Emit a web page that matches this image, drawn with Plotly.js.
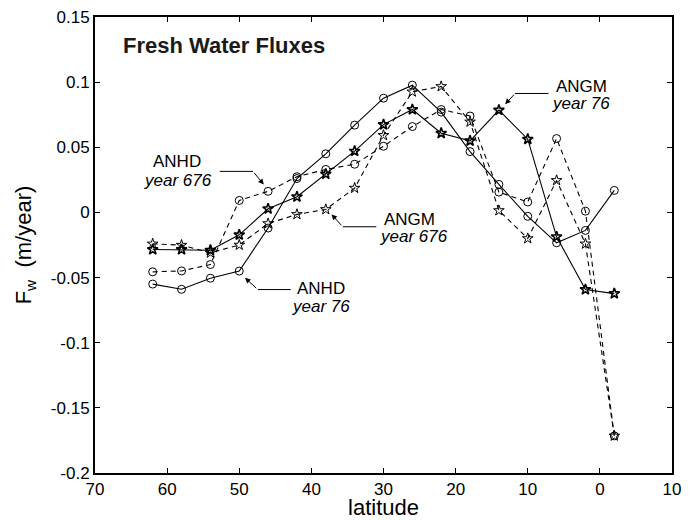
<!DOCTYPE html>
<html>
<head>
<meta charset="utf-8">
<script src="https://cdn.plot.ly/plotly-3.0.1.min.js"></script>
<style>
  html, body { margin: 0; padding: 0; background: #fff; }
  #chart { width: 690px; height: 520px; }
</style>
</head>
<body>
<div id="chart"></div>
<script>
// Latitude of each sample (degrees N; negative = south of the equator)
const latitude = [62, 58, 54, 50, 46, 42, 38, 34, 30, 26, 22, 18, 14, 10, 6, 2, -2];

// Fresh water flux (m/year) for each run
const anhdYear76  = [-0.055, -0.059, -0.0505, -0.045, -0.012, 0.026, 0.045, 0.067, 0.0877, 0.0977, 0.077, 0.0467, 0.0215, -0.003, -0.0233, -0.0138, 0.0169];
const anhdYear676 = [-0.0456, -0.0449, -0.040, 0.0092, 0.0162, 0.0274, 0.033, 0.037, 0.0508, 0.0659, 0.079, 0.074, 0.0156, 0.008, 0.0567, 0.001, -0.1715];
const angmYear76  = [-0.0285, -0.0285, -0.029, -0.0172, 0.0028, 0.012, 0.0295, 0.047, 0.0674, 0.079, 0.0608, 0.0549, 0.0785, 0.0562, -0.0187, -0.0592, -0.0623];
const angmYear676 = [-0.0241, -0.0251, -0.031, -0.025, -0.0085, -0.0015, 0.0023, 0.0187, 0.0592, 0.0926, 0.0967, 0.0695, 0.0015, -0.020, 0.0246, -0.0241, -0.1715];

// Axis ticks
const xTickVals = [70, 60, 50, 40, 30, 20, 10, 0, -10];
const xTickText = ['70', '60', '50', '40', '30', '20', '10', '0', '10'];
const yTickVals = [-0.2, -0.15, -0.1, -0.05, 0, 0.05, 0.1, 0.15];
const yTickText = ['-0.2', '-0.15', '-0.1', '-0.05', '0', '0.05', '0.1', '0.15'];

const FONT = 'Liberation Sans, Arial, Helvetica, sans-serif';
const DASH = '5px,4px';

function series(y, dashed, symbol, mlw) {
  return {
    x: latitude, y: y, type: 'scatter', mode: 'lines+markers',
    line: { color: '#000', width: 1.1, dash: dashed ? DASH : 'solid' },
    marker: { symbol: symbol, size: 8, color: '#000', line: { color: '#000', width: mlw } },
    showlegend: false, hoverinfo: 'x+y'
  };
}

const traces = [
  series(anhdYear76,  false, 'circle-open', 1),
  series(anhdYear676, true,  'circle-open', 1),
  series(angmYear76,  false, 'star-open', 1.6),
  series(angmYear676, true,  'star-open', 1)
];

// Callout labels: two text lines, a horizontal leader and an arrow to the curve
const callouts = [
  { run: 'ANHD', year: 'year 676', line1: [58.6, 0.0392], line2: [58.5, 0.0246],
    leader: [[52.7, 0.0315], [48.1, 0.0315]], tip: [46.6, 0.0215] },
  { run: 'ANGM', year: 'year 676', line1: [26.4, -0.0058], line2: [25.8, -0.0185],
    leader: [[31.0, -0.011], [35.65, -0.011]], tip: [37.2, -0.0015] },
  { run: 'ANHD', year: 'year 76', line1: [38.65, -0.0581], line2: [38.65, -0.0719],
    leader: [[42.86, -0.0592], [47.43, -0.0592]], tip: [49.2, -0.0502] },
  { run: 'ANGM', year: 'year 76', line1: [2.6, 0.0969], line2: [2.6, 0.0835],
    leader: [[7.13, 0.0913], [11.75, 0.0913]], tip: [13.13, 0.0831] }
];

const annotations = [];
const shapes = [];
callouts.forEach(c => {
  annotations.push({
    x: c.line1[0], y: c.line1[1], xref: 'x', yref: 'y', text: c.run, showarrow: false,
    xanchor: 'center', yanchor: 'middle', font: { family: FONT, size: 17, color: '#000' }
  });
  annotations.push({
    x: c.line2[0], y: c.line2[1], xref: 'x', yref: 'y', text: '<i>' + c.year + '</i>', showarrow: false,
    xanchor: 'center', yanchor: 'middle', font: { family: FONT, size: 17, color: '#000' }
  });
  shapes.push({
    type: 'line', xref: 'x', yref: 'y',
    x0: c.leader[0][0], y0: c.leader[0][1], x1: c.leader[1][0], y1: c.leader[1][1],
    line: { color: '#000', width: 1 }
  });
  annotations.push({
    x: c.tip[0], y: c.tip[1], xref: 'x', yref: 'y',
    ax: c.leader[1][0], ay: c.leader[1][1], axref: 'x', ayref: 'y',
    text: '', showarrow: true, arrowhead: 2, arrowsize: 1.1, arrowwidth: 1, arrowcolor: '#000'
  });
});

annotations.push({
  x: 66.4, y: 0.128, xref: 'x', yref: 'y', text: '<b>Fresh Water Fluxes</b>', showarrow: false,
  xanchor: 'left', yanchor: 'middle', font: { family: FONT, size: 22, color: '#1a1a1a' }
});

const axisCommon = {
  showline: true, linecolor: '#000', linewidth: 2, mirror: 'ticks',
  ticks: 'inside', ticklen: 5, tickwidth: 1, tickcolor: '#000',
  showgrid: false, zeroline: false,
  tickfont: { family: FONT, size: 17, color: '#000' }
};

const layout = {
  width: 690, height: 520,
  margin: { l: 95, r: 18, t: 17, b: 47 },
  paper_bgcolor: '#fff', plot_bgcolor: '#fff',
  font: { family: FONT, color: '#000' },
  xaxis: Object.assign({}, axisCommon, {
    range: [70, -10], tickmode: 'array', tickvals: xTickVals, ticktext: xTickText,
    title: { text: 'latitude', font: { family: FONT, size: 22, color: '#000' }, standoff: 4 }
  }),
  yaxis: Object.assign({}, axisCommon, {
    range: [-0.2, 0.15], tickmode: 'array', tickvals: yTickVals, ticktext: yTickText,
    title: { text: 'F<sub>w</sub>  (m/year)', font: { family: FONT, size: 22, color: '#000' }, standoff: 13 }
  }),
  annotations: annotations,
  shapes: shapes
};

Plotly.newPlot('chart', traces, layout, { displayModeBar: false, staticPlot: true });
</script>
</body>
</html>
